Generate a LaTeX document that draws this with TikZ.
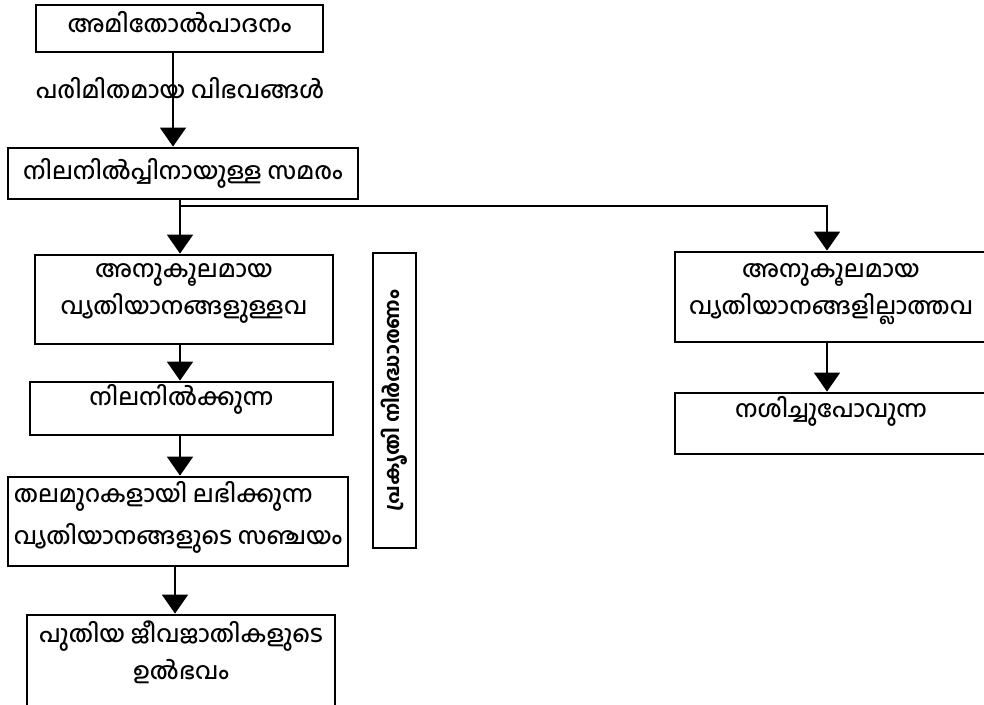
\documentclass[tikz,border=0pt]{standalone}
\usepackage{fontspec}
\newfontfamily\mlfont[Script=Malayalam, UprightFont=* Medium, BoldFont=* Bold]{Hind Kochi}
\usetikzlibrary{arrows.meta}
\tikzset{
  box/.style={draw, line width=2.8pt, inner sep=0pt, align=center},
  arr/.style={line width=1.7pt, -{Triangle[width=26pt,length=19pt]}},
}
\begin{document}
\begin{tikzpicture}[x=1pt, y=-1pt, font=\mlfont\fontsize{23.5}{37}\selectfont]
  \path[use as bounding box] (0,0) rectangle (984,704);
  \clip (0,0) rectangle (984,704);
  \fill[white] (0,0) rectangle (984,704);
  \node[box, minimum width=287pt, minimum height=47pt, text height=20pt, text depth=13pt] (over) at (179.5,28.5) {അമിതോൽപാദനം};
  \node[box, minimum width=350pt, minimum height=51pt, text height=22pt, text depth=11pt] (fight) at (183,173.5) {നിലനിൽപ്പിനായുള്ള സമരം};
  \node[box, minimum width=298pt, minimum height=89pt, text height=52pt, text depth=23pt] (fav) at (184,299.5) {അനുകൂലമായ\\വ്യതിയാനങ്ങളുള്ളവ};
  \node[box, minimum width=303pt, minimum height=53pt, text height=15pt, text depth=22pt] (live) at (181.5,408.5) {നിലനിൽക്കുന്ന};
  \node[box, minimum width=340pt, minimum height=89pt, text height=62pt, text depth=17pt, align=left,
    font=\mlfont\fontsize{23.5}{42}\selectfont] (accum) at (178,521.5) {തലമുറകളായി ലഭിക്കുന്ന\\വ്യതിയാനങ്ങളുടെ സഞ്ചയം};
  \node[box, minimum width=308pt, minimum height=105pt, text height=55pt, text depth=32pt] (origin) at (181,667.5) {പുതിയ ജീവജാതികളുടെ\\ഉൽഭവം};
  \node[box, minimum width=295pt, minimum height=43pt, rotate=90, font=\mlfont\bfseries\fontsize{20}{24}\selectfont] (select) at (394.5,400.5) {പ്രകൃതി നിർദ്ധാരണം};
  \node[box, minimum width=312pt, minimum height=90pt, text height=54pt, text depth=20pt] (unfav) at (831,297) {അനുകൂലമായ\\വ്യതിയാനങ്ങളില്ലാത്തവ};
  \node[box, minimum width=312pt, minimum height=61pt, text height=15pt, text depth=28pt] (perish) at (831,423.5) {നശിച്ചുപോവുന്ന};
  \coordinate (fork) at (180,206);
  \coordinate (turn) at (827,206);
  \draw[arr] (over.south -| 173,0) -- (fight.north -| 173,0)
    node[pos=0.37, xshift=7pt] (limit) {പരിമിതമായ വിഭവങ്ങൾ};
  \draw[arr] (fight.south -| fork) -- (fav.north -| fork);
  \draw[arr] (fork) -- (turn) -- (unfav.north -| turn);
  \draw[arr] (fav.south -| fork) -- (live.north -| fork);
  \draw[arr] (live.south -| fork) -- (accum.north -| fork);
  \draw[arr] (accum.south -| 175,0) -- (origin.north -| 175,0);
  \draw[arr] (unfav.south -| turn) -- (perish.north -| turn);
\end{tikzpicture}
\end{document}
